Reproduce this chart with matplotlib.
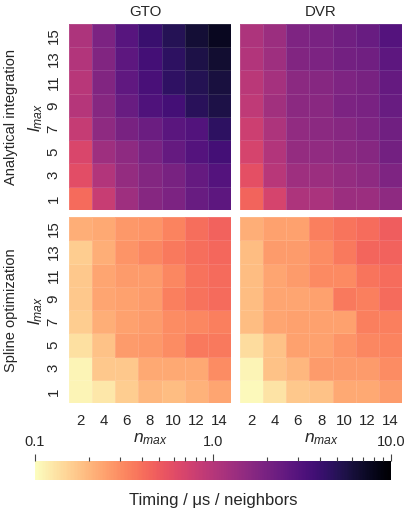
import numpy as np
import matplotlib
matplotlib.use('Agg')
import matplotlib.pyplot as plt
from matplotlib.colors import LogNorm
from matplotlib.ticker import LogLocator, FixedFormatter, FixedLocator, NullFormatter

plt.rcParams['font.family'] = 'Liberation Sans'
plt.rcParams['mathtext.fontset'] = 'custom'
plt.rcParams['mathtext.it'] = 'Liberation Sans:italic'
plt.rcParams['mathtext.rm'] = 'Liberation Sans'

n_max = [2, 4, 6, 8, 10, 12, 14]
l_max = [1, 3, 5, 7, 9, 11, 13, 15]
methods = ['GTO', 'DVR']
rows = ['Analytical integration', 'Spline optimization']

# timing per neighbor in us, rows are l_max = 1 ... 15, columns n_max = 2 ... 14
gto_analytical = [
    [0.42, 0.83, 1.30, 1.70, 1.90, 2.40, 2.70],
    [0.60, 1.05, 1.45, 1.75, 2.00, 2.50, 3.00],
    [0.67, 1.30, 1.55, 1.95, 2.50, 3.00, 3.60],
    [0.85, 1.55, 2.00, 2.30, 2.80, 3.10, 4.60],
    [1.00, 1.70, 2.40, 3.20, 3.60, 4.80, 5.60],
    [0.97, 1.80, 2.60, 3.40, 4.50, 5.10, 5.90],
    [1.05, 1.80, 2.70, 3.60, 4.60, 5.60, 6.50],
    [1.10, 1.90, 2.90, 4.00, 5.00, 6.30, 7.60],
]
dvr_analytical = [
    [0.45, 0.70, 1.10, 1.15, 1.35, 1.35, 1.55],
    [0.58, 0.97, 1.30, 1.35, 1.45, 1.55, 1.85],
    [0.70, 1.05, 1.45, 1.50, 1.60, 1.70, 2.10],
    [0.78, 1.10, 1.50, 1.60, 1.70, 1.85, 2.20],
    [0.90, 1.25, 1.60, 1.65, 1.90, 1.95, 2.40],
    [0.95, 1.20, 1.60, 1.70, 1.85, 2.00, 2.50],
    [1.05, 1.30, 1.80, 1.90, 2.10, 2.20, 2.70],
    [1.10, 1.35, 1.85, 1.95, 2.20, 2.40, 3.00],
]
gto_spline = [
    [0.110, 0.125, 0.16, 0.20, 0.19, 0.21, 0.24],
    [0.110, 0.170, 0.17, 0.23, 0.23, 0.23, 0.30],
    [0.135, 0.180, 0.26, 0.27, 0.30, 0.36, 0.36],
    [0.160, 0.220, 0.25, 0.26, 0.30, 0.32, 0.34],
    [0.170, 0.240, 0.25, 0.26, 0.34, 0.39, 0.42],
    [0.170, 0.240, 0.26, 0.26, 0.32, 0.39, 0.42],
    [0.160, 0.220, 0.28, 0.32, 0.36, 0.40, 0.43],
    [0.220, 0.230, 0.27, 0.28, 0.33, 0.40, 0.46],
]
dvr_spline = [
    [0.105, 0.13, 0.17, 0.18, 0.23, 0.23, 0.26],
    [0.110, 0.18, 0.20, 0.26, 0.26, 0.26, 0.30],
    [0.140, 0.18, 0.25, 0.25, 0.28, 0.32, 0.33],
    [0.190, 0.24, 0.25, 0.25, 0.25, 0.34, 0.34],
    [0.190, 0.24, 0.24, 0.25, 0.36, 0.34, 0.42],
    [0.190, 0.24, 0.26, 0.31, 0.31, 0.38, 0.41],
    [0.190, 0.26, 0.26, 0.30, 0.36, 0.44, 0.46],
    [0.220, 0.25, 0.25, 0.34, 0.38, 0.41, 0.48],
]
panels = [[gto_analytical, dvr_analytical], [gto_spline, dvr_spline]]

cbar_ticks = [0.1, 1.0, 10.0]
cbar_ticklabels = ['0.1', '1.0', '10.0']

W, H = 415, 511
fig = plt.figure(figsize=(W / 100, H / 100), dpi=100)
norm = LogNorm(vmin=0.1, vmax=10)
cmap = plt.get_cmap('magma_r')
txt = '#262626'

lefts = [69, 240]
tops = [24, 217]
pw, ph = 162, 186
title_x = [0.47, 0.5]

mesh = None
for r in range(2):
    for c in range(2):
        ax = fig.add_axes([lefts[c] / W, 1 - (tops[r] + ph) / H, pw / W, ph / H])
        vals = np.array(panels[r][c])
        mesh = ax.pcolormesh(np.arange(len(n_max) + 1), np.arange(len(l_max) + 1), vals,
                             cmap=cmap, norm=norm, edgecolors=(1, 1, 1, 0.12), linewidth=0.6)
        ax.set_xlim(0, len(n_max))
        ax.set_ylim(0, len(l_max))
        for s in ax.spines.values():
            s.set_visible(False)
        ax.tick_params(length=0, labelsize=10.8, labelcolor=txt)
        ax.set_xticks(np.arange(len(n_max)) + 0.5)
        ax.set_yticks(np.arange(len(l_max)) + 0.5)
        if r == 1:
            ax.set_xticklabels([str(n) for n in n_max])
            ax.tick_params(axis='x', pad=8)
            ax.set_xlabel('$n_{max}$', fontsize=12.5, labelpad=2, color=txt)
        else:
            ax.set_xticklabels([])
            ax.set_title(methods[c], fontsize=10.8, pad=6, x=title_x[c], color=txt)
        if c == 0:
            ax.set_yticklabels([str(l) for l in l_max], rotation=90, va='center')
            ax.tick_params(axis='y', pad=6)
            ax.set_ylabel('$l_{max}$', fontsize=12.5, labelpad=1, color=txt)
            fig.text(11 / W, 1 - (tops[r] + ph / 2) / H, rows[r], rotation=90,
                     ha='center', va='center', fontsize=10.5, color=txt)
        else:
            ax.set_yticklabels([])

cax = fig.add_axes([35 / W, 31 / H, 356 / W, 19 / H])
cb = fig.colorbar(mesh, cax=cax, orientation='horizontal')
cb.outline.set_visible(False)
cax.xaxis.set_ticks_position('top')
cax.xaxis.set_label_position('bottom')
cax.xaxis.set_major_locator(FixedLocator(cbar_ticks))
cax.xaxis.set_major_formatter(FixedFormatter(cbar_ticklabels))
cax.xaxis.set_minor_locator(LogLocator(base=10, subs=np.arange(2, 10)))
cax.xaxis.set_minor_formatter(NullFormatter())
cax.tick_params(which='major', length=5, width=0.8, labelsize=10.5, pad=4, color='#444444', labelcolor=txt)
cax.tick_params(which='minor', length=3, width=0.8, color='#444444')
cb.set_label('Timing / μs / neighbors', fontsize=12, labelpad=9, color=txt)

fig.savefig('out.png', dpi=100)
